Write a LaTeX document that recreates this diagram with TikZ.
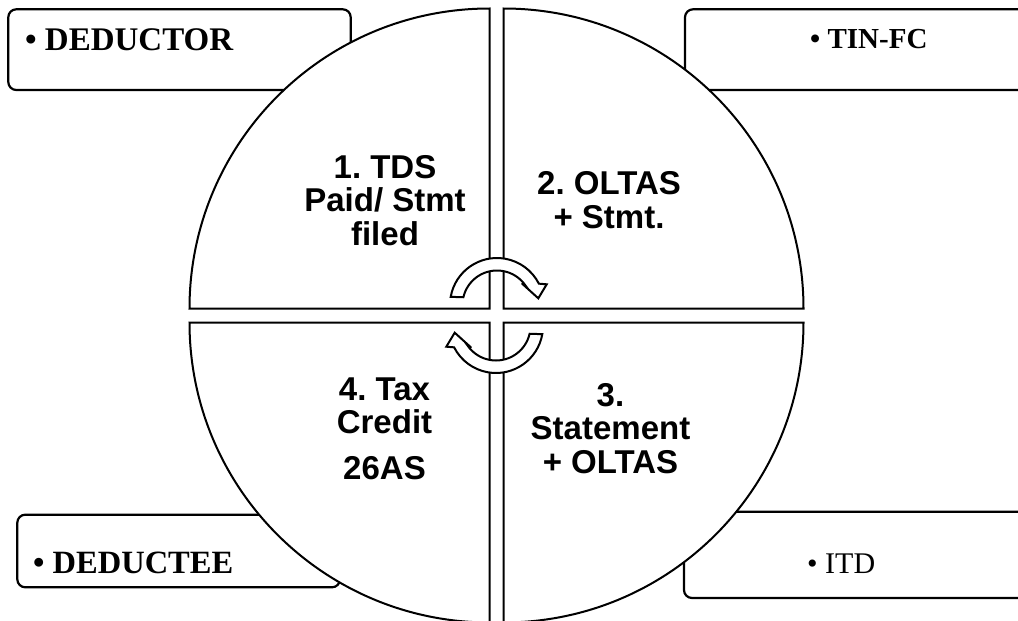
\documentclass[tikz,border=0pt]{standalone}
\usepackage{fontspec}
\newfontfamily\serifface{Liberation Serif}
\newfontfamily\sansface{Liberation Sans}
\frenchspacing
\tikzset{
  boxshape/.style={draw=black, line width=2.2pt, rounded corners=8pt, fill=white},
  quad/.style={draw=black, line width=2pt, fill=white},
  cyc/.style={draw=black, line width=2pt, fill=white, line join=miter},
  boxtext/.style={inner sep=0pt, anchor=base west, font=\serifface\bfseries\fontsize{33}{36}\selectfont},
  quadtext/.style={inner sep=0pt, align=center, anchor=base, font=\sansface\bfseries\fontsize{33}{33.5}\selectfont},
}
\newcommand\cyclearr[1]{%
  \draw[cyc,#1] (450.71,296.84) arc[start angle=190, end angle=333, radius=47]
    -- (546.7,284.3) -- (538.3,298.3) -- (521.7,283.3) -- (525.60,285.71)
    arc[start angle=326, end angle=193, radius=34.5] -- cycle;}
\begin{document}
\begin{tikzpicture}[x=1pt,y=-1pt]
\useasboundingbox (0,0) rectangle (1018,621);
\clip (0,0) rectangle (1018,621);
% side boxes
\draw[boxshape] (8.3,9.3) rectangle (350.7,90);
\draw[boxshape] (685,9.3) rectangle (1040,90);
\draw[boxshape] (17.3,514.7) rectangle (340,587.3);
\draw[boxshape] (684,511.7) rectangle (1040,598);
% quadrants
\draw[quad] (489.5,308.5) -- (189.5,308.5) arc[start angle=180, end angle=270, radius=300] -- cycle;
\draw[quad] (503.5,308.5) -- (503.5,8.5) arc[start angle=270, end angle=360, radius=300] -- cycle;
\draw[quad] (503.5,322.5) -- (803.5,322.5) arc[start angle=0, end angle=90, radius=300] -- cycle;
\draw[quad] (489.5,322.5) -- (489.5,622.5) arc[start angle=90, end angle=180, radius=300] -- cycle;
% cycle arrows
\cyclearr{}
\cyclearr{rotate around={180:(496.5,315.5)}}
% box labels
\node[boxtext] (deductor) at (25,50) {• DEDUCTOR};
\node[boxtext, font=\serifface\bfseries\fontsize{29}{32}\selectfont] (tinfc) at (810,48.3) {• TIN-FC};
\node[boxtext, font=\serifface\bfseries\fontsize{32.5}{36}\selectfont] (deductee) at (33,573.3) {• DEDUCTEE};
\node[boxtext, font=\serifface\fontsize{30}{32}\selectfont] (itd) at (807,573.3) {• ITD};
% quadrant labels (anchored at the baseline of the last line)
\node[quadtext] (q1) at (385,245) {1. TDS\\Paid/ Stmt\\filed};
\node[quadtext] (q2) at (609,228) {2. OLTAS\\+ Stmt.};
\node[quadtext] (q3) at (610.5,473) {3.\\Statement\\+ OLTAS};
\node[quadtext] (q4) at (384.5,479) {4. Tax\\Credit\\[12pt]26AS};
\end{tikzpicture}
\end{document}
